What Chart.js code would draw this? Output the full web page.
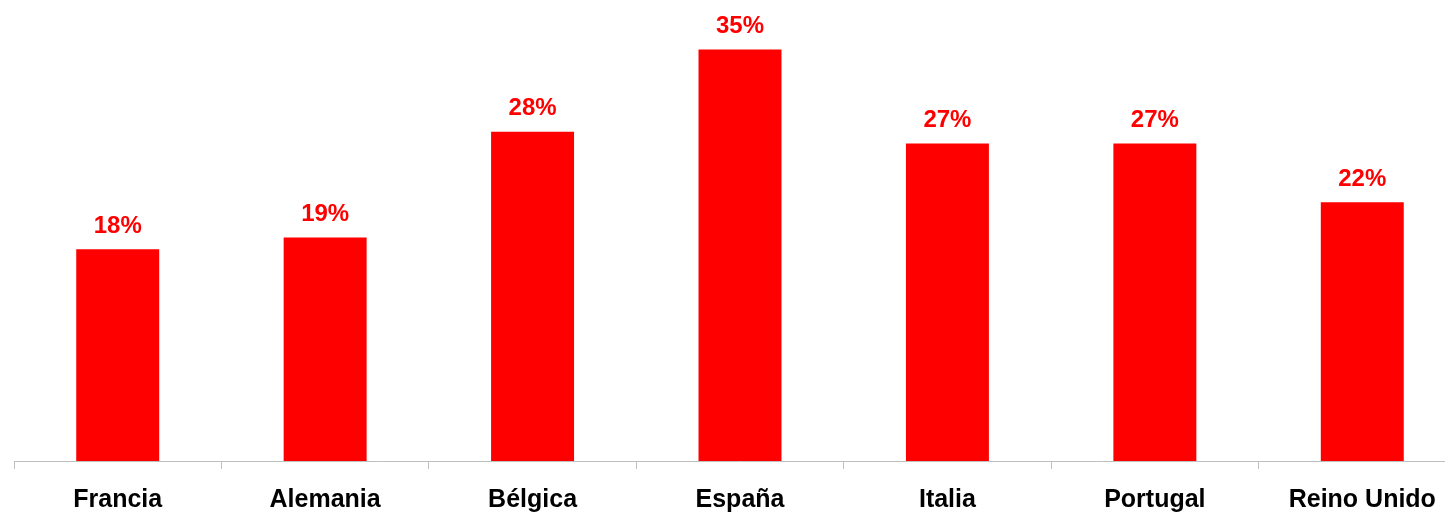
<!DOCTYPE html>
<html>
<head>
<meta charset="utf-8">
<script src="https://cdn.jsdelivr.net/npm/chart.js@4"></script>
<style>
html,body{margin:0;padding:0;background:#fff;overflow:hidden;}
#wrap{position:relative;width:1480px;height:531px;}
</style>
</head>
<body>
<div id="wrap"><canvas id="c"></canvas></div>
<script>
const categories = ["Francia","Alemania","Bélgica","España","Italia","Portugal","Reino Unido"];
const values = [18, 19, 28, 35, 27, 27, 22];
const valueLabels = ["18%","19%","28%","35%","27%","27%","22%"];

const FONT = "'Liberation Sans', Arial, sans-serif";

const labelPlugin = {
  id: 'valueLabels',
  afterDatasetsDraw(chart) {
    const ctx = chart.ctx;
    const meta = chart.getDatasetMeta(0);
    ctx.save();
    ctx.font = "bold 24px " + FONT;
    ctx.fillStyle = "#FF0000";
    ctx.textAlign = "center";
    ctx.textBaseline = "alphabetic";
    meta.data.forEach((bar, i) => {
      ctx.fillText(valueLabels[i], bar.x, bar.y - 16.5);
    });
    ctx.restore();
  }
};

new Chart(document.getElementById('c'), {
  type: 'bar',
  data: {
    labels: categories,
    datasets: [{
      data: values,
      backgroundColor: '#FF0000',
      borderWidth: 0,
      barPercentage: 0.4,
      categoryPercentage: 1.0
    }]
  },
  options: {
    responsive: true,
    maintainAspectRatio: false,
    animation: false,
    layout: { padding: { left: 14, right: 14, top: 0, bottom: 0 } },
    plugins: { legend: { display: false }, tooltip: { enabled: false } },
    scales: {
      x: {
        offset: true,
        grid: {
          offset: true,
          drawOnChartArea: false,
          drawTicks: true,
          tickLength: 8,
          color: '#BFBFBF',
          lineWidth: 1
        },
        border: { display: true, color: '#BFBFBF', width: 1 },
        ticks: {
          color: '#000000',
          padding: 16,
          font: { family: FONT, size: 25, weight: 'bold' },
          maxRotation: 0,
          autoSkip: false
        }
      },
      y: {
        display: false,
        min: 0,
        max: 39.2
      }
    }
  },
  plugins: [labelPlugin]
});
</script>
</body>
</html>
